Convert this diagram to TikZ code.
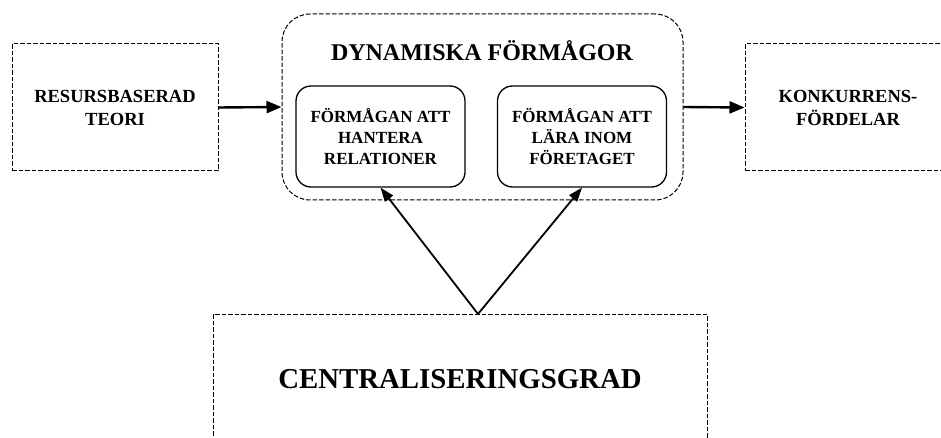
\documentclass[tikz,border=0pt]{standalone}
\usepackage{fontspec}
\setmainfont{Liberation Serif}
\usetikzlibrary{arrows.meta}
\begin{document}
\begin{tikzpicture}[x=1pt,y=-1pt,
  dbox/.style={draw, line width=1pt, dash pattern=on 4.5pt off 2pt, inner sep=0pt, align=center},
  outerbox/.style={dbox, font=\fontsize{18.5}{23}\selectfont\bfseries, minimum width=206pt, minimum height=127pt},
  innerbox/.style={draw, line width=1.3pt, rounded corners=15pt, inner sep=0pt, align=center,
     minimum width=169pt, minimum height=101pt, font=\fontsize{17}{21}\selectfont\bfseries},
  bigarrow/.style={line width=2.4pt, -{Triangle[length=15pt,width=12pt]}},
  thinarrow/.style={line width=1.8pt, -{Triangle[length=14pt,width=10pt]}}]
\useasboundingbox (0,0) rectangle (941,438);
\clip (0,0) rectangle (941,438);
\node[outerbox] (rbt) at (115,107.5) {RESURSBASERAD\\TEORI};
\node[outerbox] (kf) at (848,107.5) {KONKURRENS-\\FÖRDELAR};
\node[dbox, rounded corners=28pt, minimum width=401pt, minimum height=186pt] (dyn) at (482.5,107) {};
\node[font=\fontsize{24}{28}\selectfont\bfseries] (title) at (482,51) {DYNAMISKA FÖRMÅGOR};
\node[innerbox] (rel) at (380.5,136.5) {FÖRMÅGAN ATT\\HANTERA\\RELATIONER};
\node[innerbox] (lar) at (582,136.5) {FÖRMÅGAN ATT\\LÄRA INOM\\FÖRETAGET};
\node[dbox, minimum width=494pt, minimum height=130pt, font=\fontsize{28.8}{34}\selectfont\bfseries] (cg) at (460,379) {CENTRALISERINGSGRAD};
\coordinate (apex) at (478,314);
\draw[bigarrow] (rbt.east) -- (dyn.west);
\draw[bigarrow] (dyn.east) -- (kf.west);
\draw[thinarrow] (apex) -- (rel.south);
\draw[thinarrow] (apex) -- (lar.south);
\end{tikzpicture}
\end{document}
